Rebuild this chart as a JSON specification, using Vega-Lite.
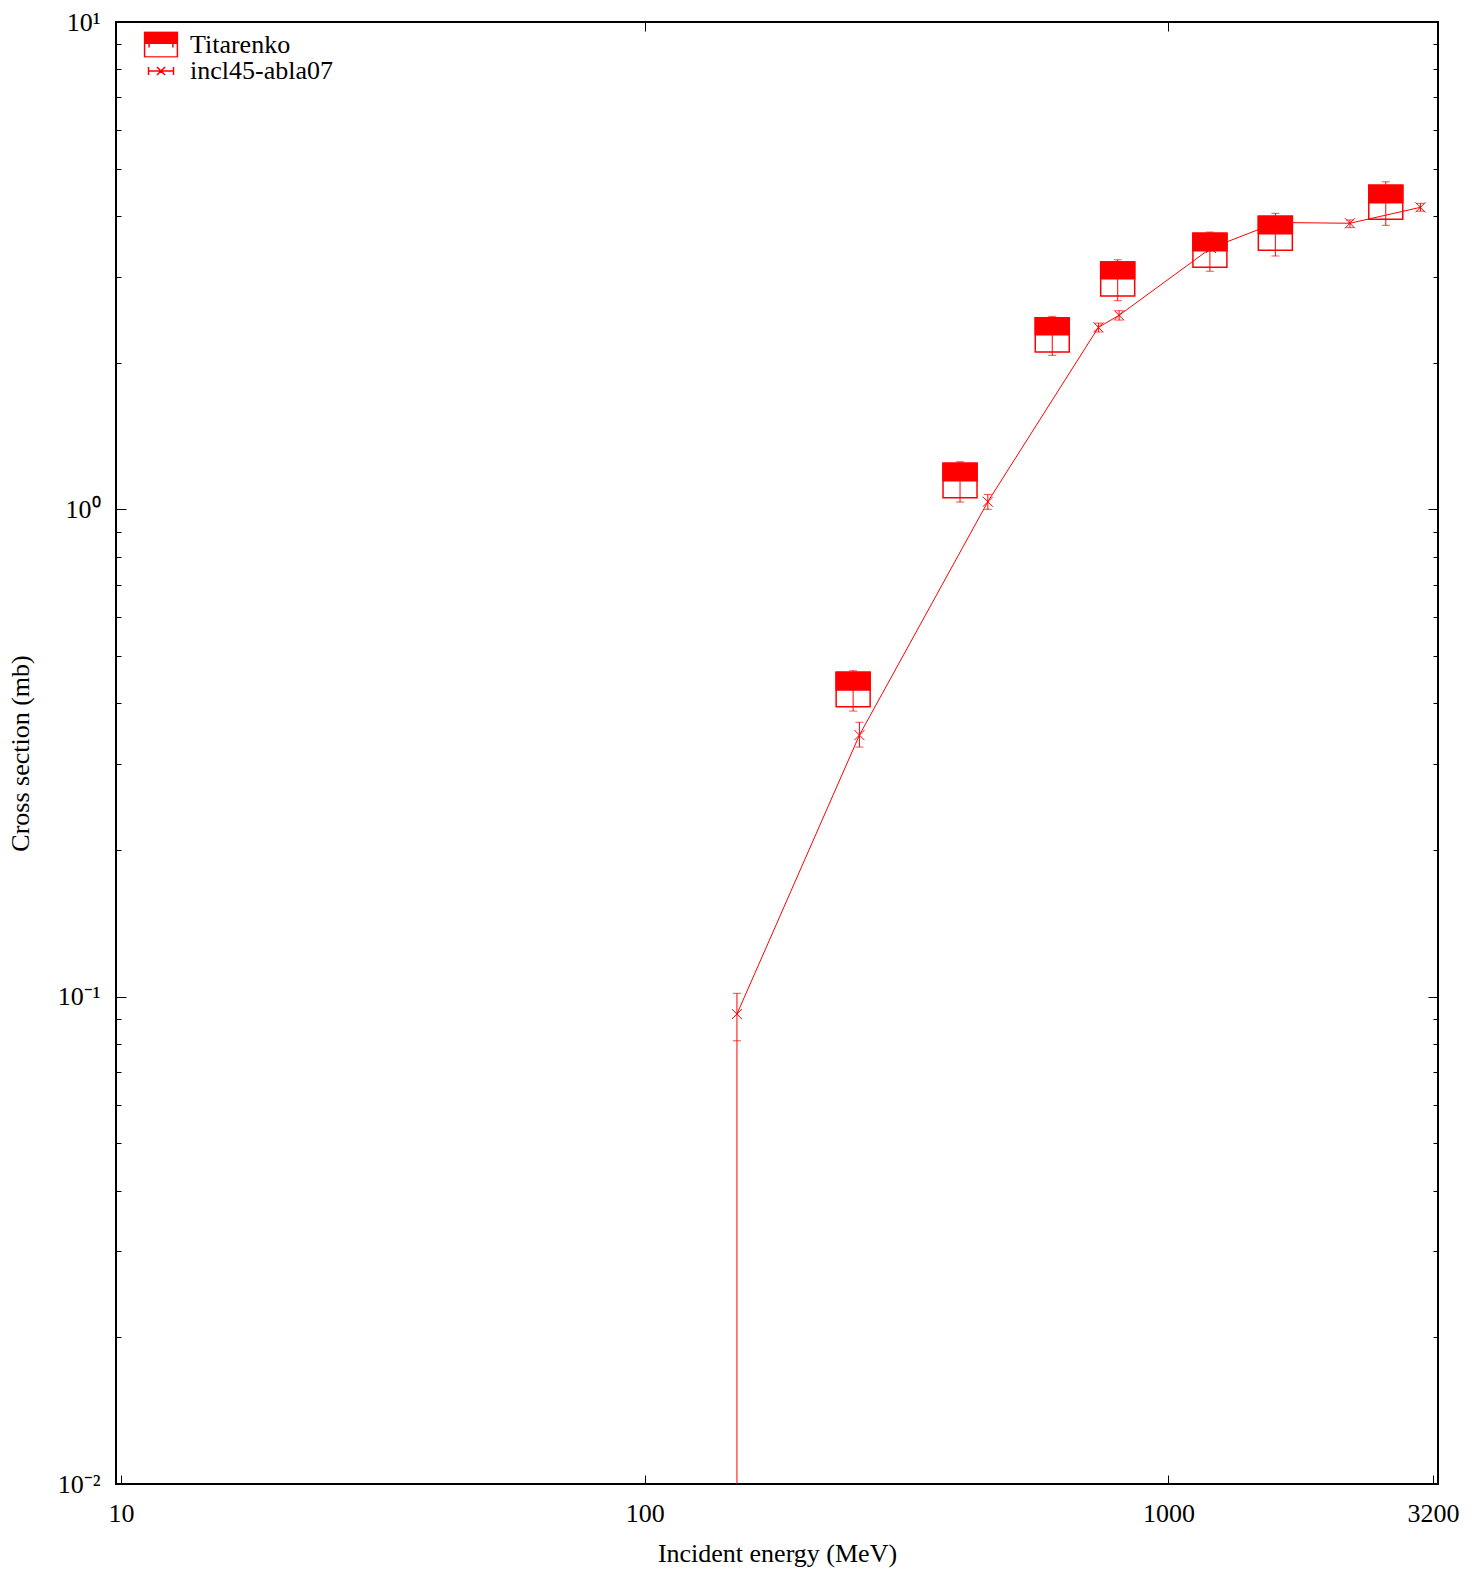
{
  "$schema": "https://vega.github.io/schema/vega-lite/v6.json",
  "width": 1322,
  "height": 1462,
  "autosize": {"type": "none"},
  "padding": {"left": 116, "top": 22, "right": 36, "bottom": 86},
  "background": "white",
  "config": {
    "view": {"stroke": "black", "strokeWidth": 2},
    "font": "Liberation Serif",
    "axis": {"domain": false, "grid": false, "labelFont": "Liberation Serif", "labelFontSize": 26, "labelColor": "black", "titleFont": "Liberation Serif", "titleFontSize": 26, "titleFontWeight": "normal", "titleColor": "black", "tickColor": "black", "tickWidth": 1, "labelOverlap": false}
  },
  "datasets": {
    "titarenko": [
      {"E": 250, "lo": 0.3935, "mid": 0.4257, "hi": 0.463, "wlo": 0.3855, "whi": 0.4664},
      {"E": 400, "lo": 1.056, "mid": 1.145, "hi": 1.243, "wlo": 1.035, "whi": 1.252},
      {"E": 600, "lo": 2.103, "mid": 2.282, "hi": 2.473, "wlo": 2.07, "whi": 2.489},
      {"E": 800, "lo": 2.74, "mid": 2.973, "hi": 3.217, "wlo": 2.68, "whi": 3.252},
      {"E": 1200, "lo": 3.139, "mid": 3.394, "hi": 3.685, "wlo": 3.08, "whi": 3.707},
      {"E": 1600, "lo": 3.401, "mid": 3.678, "hi": 3.993, "wlo": 3.31, "whi": 4.05},
      {"E": 2600, "lo": 3.936, "mid": 4.257, "hi": 4.624, "wlo": 3.826, "whi": 4.7}
    ],
    "incl": [
      {"E": 150, "y": 0.0921, "elo": 0.0812, "ehi": 0.1016, "tail": 0.01},
      {"E": 257, "y": 0.3441, "elo": 0.3252, "ehi": 0.3656, "tail": 0.3252},
      {"E": 452, "y": 1.0366, "elo": 1.0, "ehi": 1.073, "tail": 1.0},
      {"E": 735, "y": 2.363, "elo": 2.311, "ehi": 2.411, "tail": 2.311},
      {"E": 805, "y": 2.501, "elo": 2.445, "ehi": 2.556, "tail": 2.445},
      {"E": 1206, "y": 3.437, "elo": 3.39, "ehi": 3.49, "tail": 3.39},
      {"E": 1609, "y": 3.878, "elo": 3.82, "ehi": 3.93, "tail": 3.82},
      {"E": 2221, "y": 3.864, "elo": 3.785, "ehi": 3.925, "tail": 3.785},
      {"E": 3028, "y": 4.166, "elo": 4.09, "ehi": 4.245, "tail": 4.09}
    ],
    "legend": [
      {"series": "Titarenko"},
      {"series": "incl45-abla07"}
    ]
  },
  "resolve": {"axis": {"x": "independent", "y": "independent"}},
  "layer": [
    {
      "data": {"name": "titarenko"},
      "mark": {"type": "bar", "size": 34, "fill": "white", "stroke": "red", "strokeWidth": 1.5, "clip": true},
      "encoding": {
        "x": {"field": "E", "type": "quantitative", "scale": {"type": "log", "domain": [10, 3200], "nice": false},
          "axis": {"orient": "bottom", "title": "Incident energy (MeV)", "values": [10, 100, 1000, 3200], "format": "d", "labelFlush": false, "tickSize": -9, "labelPadding": 25, "titlePadding": 14}},
        "y": {"field": "lo", "type": "quantitative", "scale": {"type": "log", "domain": [0.01, 10], "nice": false},
          "axis": {"orient": "left", "title": "Cross section (mb)", "titlePadding": 24,
            "values": [0.01,0.02,0.03,0.04,0.05,0.06,0.07,0.08,0.09,0.1,0.2,0.3,0.4,0.5,0.6,0.7,0.8,0.9,1,2,3,4,5,6,7,8,9,10],
            "labelExpr": "datum.value == 10 ? '10¹' : datum.value == 1 ? '10⁰' : datum.value == 0.1 ? '10⁻¹' : datum.value == 0.01 ? '10⁻²' : ''",
            "tickSize": {"condition": {"test": "datum.value == 10 || datum.value == 1 || datum.value == 0.1 || datum.value == 0.01", "value": -10}, "value": -5},
            "labelPadding": 26}},
        "y2": {"field": "hi"}
      }
    },
    {
      "data": {"name": "titarenko"},
      "mark": {"type": "bar", "size": 34, "fill": "red", "stroke": "red", "strokeWidth": 1.5, "clip": true},
      "encoding": {
        "x": {"field": "E", "type": "quantitative", "axis": {"orient": "top", "title": null, "values": [100, 1000], "labels": false, "tickSize": -9}},
        "y": {"field": "mid", "type": "quantitative",
          "axis": {"orient": "right", "title": null, "labels": false,
            "values": [0.01,0.02,0.03,0.04,0.05,0.06,0.07,0.08,0.09,0.1,0.2,0.3,0.4,0.5,0.6,0.7,0.8,0.9,1,2,3,4,5,6,7,8,9,10],
            "tickSize": {"condition": {"test": "datum.value == 10 || datum.value == 1 || datum.value == 0.1 || datum.value == 0.01", "value": -10}, "value": -5}}},
        "y2": {"field": "hi"}
      }
    },
    {
      "data": {"name": "titarenko"},
      "mark": {"type": "rule", "color": "red", "strokeWidth": 1, "clip": true},
      "encoding": {
        "x": {"field": "E", "type": "quantitative", "axis": null},
        "y": {"field": "wlo", "type": "quantitative", "axis": null},
        "y2": {"field": "whi"}
      }
    },
    {
      "data": {"name": "titarenko"},
      "mark": {"type": "tick", "orient": "horizontal", "color": "red", "size": 8, "thickness": 1, "clip": true},
      "encoding": {
        "x": {"field": "E", "type": "quantitative", "axis": null},
        "y": {"field": "wlo", "type": "quantitative", "axis": null}
      }
    },
    {
      "data": {"name": "titarenko"},
      "mark": {"type": "tick", "orient": "horizontal", "color": "red", "size": 8, "thickness": 1, "clip": true},
      "encoding": {
        "x": {"field": "E", "type": "quantitative", "axis": null},
        "y": {"field": "whi", "type": "quantitative", "axis": null}
      }
    },
    {
      "data": {"name": "incl"},
      "mark": {"type": "line", "color": "red", "strokeWidth": 1, "clip": true},
      "encoding": {
        "x": {"field": "E", "type": "quantitative", "axis": null},
        "y": {"field": "y", "type": "quantitative", "axis": null}
      }
    },
    {
      "data": {"name": "incl"},
      "mark": {"type": "rule", "color": "red", "strokeWidth": 1, "clip": true},
      "encoding": {
        "x": {"field": "E", "type": "quantitative", "axis": null},
        "y": {"field": "tail", "type": "quantitative", "axis": null},
        "y2": {"field": "ehi"}
      }
    },
    {
      "data": {"name": "incl"},
      "mark": {"type": "tick", "orient": "horizontal", "color": "red", "size": 8, "thickness": 1, "clip": true},
      "encoding": {
        "x": {"field": "E", "type": "quantitative", "axis": null},
        "y": {"field": "elo", "type": "quantitative", "axis": null}
      }
    },
    {
      "data": {"name": "incl"},
      "mark": {"type": "tick", "orient": "horizontal", "color": "red", "size": 8, "thickness": 1, "clip": true},
      "encoding": {
        "x": {"field": "E", "type": "quantitative", "axis": null},
        "y": {"field": "ehi", "type": "quantitative", "axis": null}
      }
    },
    {
      "data": {"name": "incl"},
      "mark": {"type": "point", "shape": "M-1,-1L1,1M-1,1L1,-1", "size": 100, "filled": false, "stroke": "red", "strokeWidth": 1, "opacity": 1, "clip": true},
      "encoding": {
        "x": {"field": "E", "type": "quantitative", "axis": null},
        "y": {"field": "y", "type": "quantitative", "axis": null}
      }
    },
    {
      "data": {"name": "legend"},
      "mark": {"type": "point", "filled": false, "color": "red", "strokeWidth": 1.5, "opacity": 0},
      "encoding": {
        "shape": {"field": "series", "type": "nominal",
          "scale": {"domain": ["Titarenko", "incl45-abla07"],
            "range": ["M-0.965,-0.74L0.965,-0.74L0.965,-0.07L-0.965,-0.07Z M-0.965,-0.68L0.965,-0.68 M-0.965,-0.62L0.965,-0.62 M-0.965,-0.56L0.965,-0.56 M-0.965,-0.5L0.965,-0.5 M-0.965,-0.44L0.965,-0.44 M-0.965,-0.38L0.965,-0.38 M-0.965,-0.32L0.965,-0.32 M-0.965,-0.26L0.965,-0.26 M-0.965,-0.2L0.965,-0.2 M-0.965,-0.14L0.965,-0.14 M-0.965,-0.1L0.965,-0.1 M-0.965,-0.07L-0.965,0.74L0.965,0.74L0.965,-0.07 M-0.7,-0.07L-0.7,0.17 M0.7,-0.07L0.7,0.17",
                      "M-0.735,0L0.735,0 M-0.735,-0.235L-0.735,0.235 M0.735,-0.235L0.735,0.235 M-0.235,-0.235L0.235,0.235 M-0.235,0.235L0.235,-0.235"]},
          "legend": {"title": null, "orient": "none", "legendX": 27, "legendY": 9.5, "symbolSize": 1156, "symbolStrokeColor": "red", "symbolStrokeWidth": 1.5, "symbolOpacity": 1, "labelFont": "Liberation Serif", "labelFontSize": 26, "labelColor": "black", "labelOffset": 11, "rowPadding": 0.5, "clipHeight": 26, "padding": 0}
        }
      }
    }
  ]
}
